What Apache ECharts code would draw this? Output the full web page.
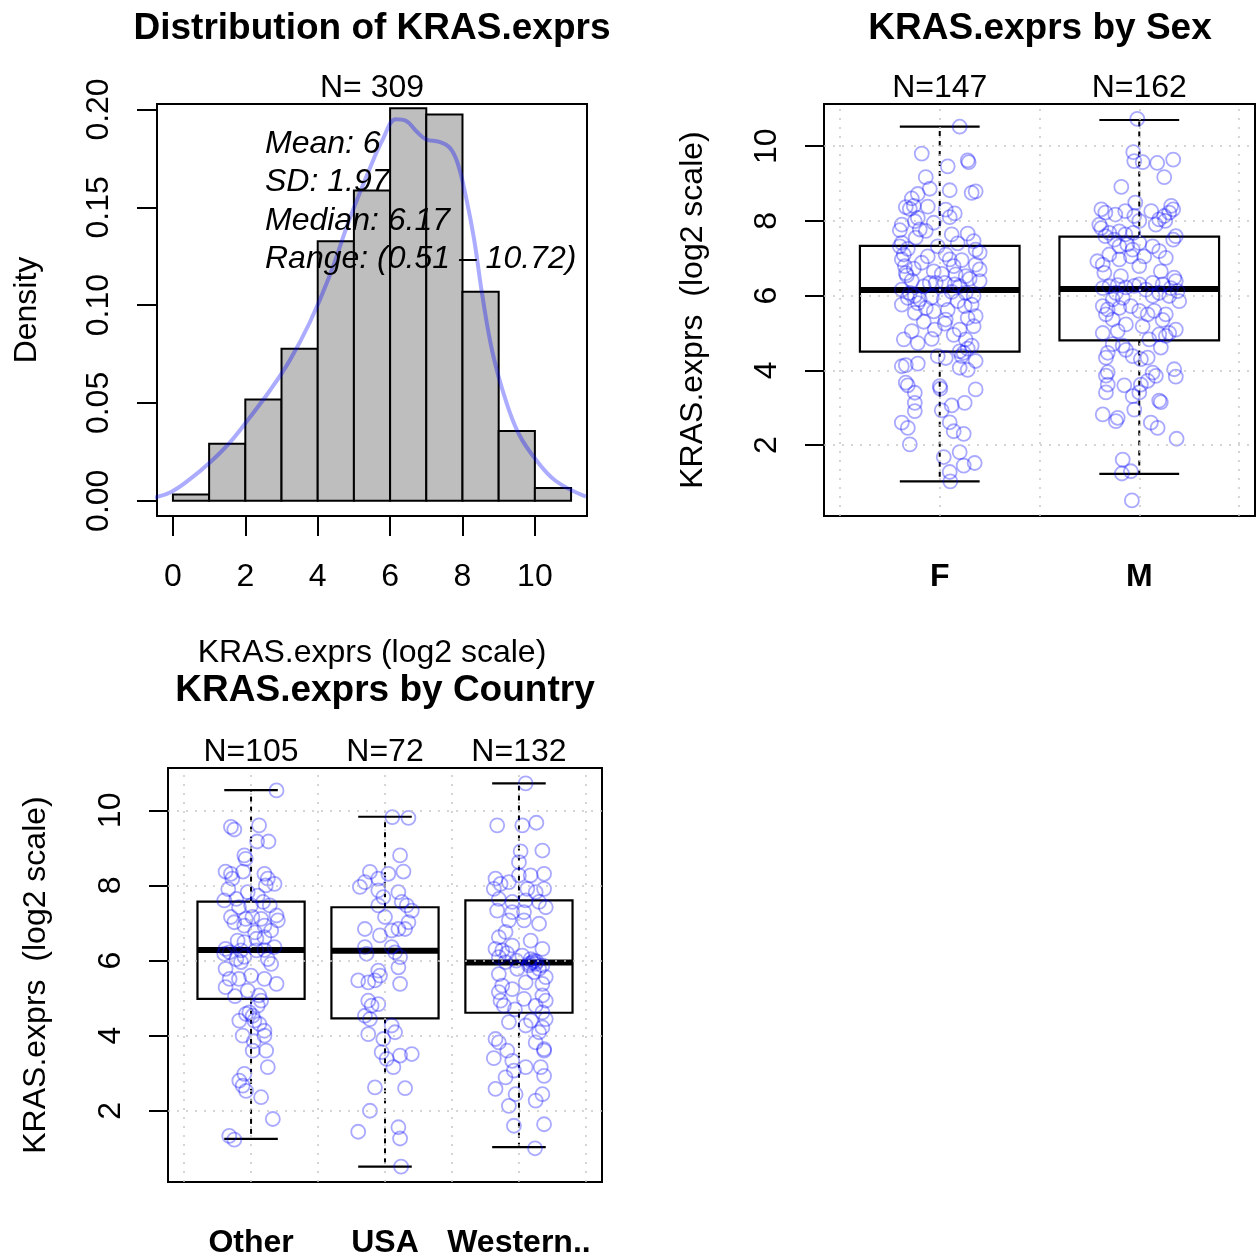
<!DOCTYPE html>
<html>
<head>
<meta charset="utf-8">
<script src="https://cdn.jsdelivr.net/npm/echarts@6/dist/echarts.min.js"></script>
<style>
  html, body { margin: 0; padding: 0; background: #fff; }
  #chart { width: 1256px; height: 1255px; }
</style>
</head>
<body>
<div id="chart"></div>
<script>
// ---- histogram ----
const histBreaks = [0, 1, 2, 3, 4, 5, 6, 7, 8, 9, 10, 11];
const histCounts = [1, 9, 16, 24, 41, 49, 62, 61, 33, 11, 2];
const histTotal = 309;
const densityX = [-0.63, -0.08, 0.47, 1.02, 1.57, 2.12, 2.67, 3.22, 3.78, 4.33, 4.88, 5.43, 5.80, 6.16, 6.44, 6.72, 6.99, 7.36, 7.64, 7.86, 8.09, 8.32, 8.55, 8.83, 9.20, 9.56, 10.02, 10.58, 11.41];
const densityY = [0.0011, 0.0042, 0.011, 0.0195, 0.0297, 0.0425, 0.0561, 0.0715, 0.0911, 0.115, 0.144, 0.1695, 0.1848, 0.195, 0.1942, 0.189, 0.1848, 0.1834, 0.1806, 0.1729, 0.1558, 0.1337, 0.1047, 0.0758, 0.051, 0.034, 0.0212, 0.0101, 0.0021];
const histXTicks = [0, 2, 4, 6, 8, 10];
const histYTicks = [0, 0.05, 0.1, 0.15, 0.2];
const statLines = ['Mean: 6', 'SD: 1.97', 'Median: 6.17', 'Range: (0.51 \u2013 10.72)'];

// ---- by sex ----
const sexGroups = ['F', 'M'];
const sexN = [147, 162];
// [lower whisker, Q1, median, Q3, upper whisker]
const sexStats = [
  [1.03, 4.50, 6.15, 7.33, 10.52],
  [1.23, 4.80, 6.18, 7.58, 10.70]
];
// jitter points: [offset from group centre, value]
const sexPointsF = [[0.10,10.52],[-0.09,9.80],[0.14,9.62],[0.145,9.57],[0.04,9.46],[-0.07,9.17],[-0.05,8.86],[0.05,8.82],[0.16,8.75],[0.18,8.79],[-0.11,8.72],[-0.14,8.60],[-0.17,8.37],[-0.15,8.32],[-0.13,8.40],[-0.06,8.38],[0.03,8.30],[0.075,8.20],[0.05,8.10],[-0.11,8.08],[-0.125,7.99],[-0.19,7.90],[-0.20,7.75],[-0.03,7.95],[-0.10,7.77],[-0.07,7.73],[0.06,7.64],[0.14,7.66],[0.17,7.46],[-0.19,7.41],[-0.20,7.32],[-0.01,7.32],[0.18,7.23],[0.20,7.15],[-0.18,7.10],[-0.19,6.97],[-0.175,6.79],[0.03,7.10],[0.05,6.97],[0.07,6.79],[-0.09,6.88],[-0.03,6.65],[-0.17,6.60],[-0.165,6.54],[0.18,6.83],[0.20,6.70],[0.08,6.57],[0.13,6.52],[0.20,6.39],[-0.05,6.34],[-0.02,6.34],[0.025,6.34],[0.075,6.30],[0.10,6.25],[-0.19,6.16],[-0.15,6.07],[-0.125,5.99],[-0.10,5.90],[-0.19,5.76],[-0.16,5.94],[-0.07,5.67],[-0.03,5.58],[0.02,5.90],[0.13,6.07],[0.17,5.99],[0.125,5.72],[0.16,5.76],[-0.125,5.54],[0.18,5.45],[0.03,5.36],[0.025,5.25],[-0.025,5.09],[0.17,5.18],[0.10,5.09],[-0.18,4.83],[-0.04,4.84],[0.13,4.83],[-0.11,4.73],[0.10,4.51],[0.12,4.47],[0.11,4.38],[0.14,4.58],[-0.01,4.38],[0.03,4.33],[0.18,4.25],[-0.19,4.11],[-0.17,4.14],[-0.11,4.18],[0.10,4.07],[0.14,4.01],[-0.17,3.67],[-0.16,3.60],[0.0,3.58],[0.003,3.51],[0.18,3.49],[-0.125,3.40],[0.125,3.13],[0.06,3.06],[-0.125,3.13],[-0.125,2.91],[0.01,2.93],[0.05,2.61],[-0.19,2.60],[-0.16,2.46],[0.07,2.37],[0.12,2.30],[-0.15,2.02],[0.10,1.81],[0.02,1.68],[0.12,1.45],[0.175,1.52],[0.05,1.28],[0.053,1.03],[-0.12,7.55],[-0.16,7.25],[0.09,7.40],[-0.06,7.05],[0.11,6.95],[-0.13,6.72],[0.01,6.58],[0.15,6.45],[-0.08,6.25],[-0.14,6.40],[0.06,6.10],[-0.04,5.95],[0.09,5.85],[-0.11,5.80],[0.04,5.62],[0.14,5.40],[-0.08,5.30],[0.07,4.95],[-0.14,5.05],[0.16,4.66]];
const sexPointsM = [[-0.01,10.73],[-0.03,9.84],[-0.025,9.60],[0.017,9.57],[0.09,9.55],[0.17,9.64],[0.125,9.17],[-0.09,8.91],[-0.02,8.49],[-0.19,8.31],[-0.17,8.22],[-0.12,8.17],[-0.07,8.26],[-0.025,8.13],[0.0,8.00],[0.06,8.26],[0.16,8.40],[0.17,8.31],[0.15,8.22],[0.10,8.04],[0.125,8.13],[-0.20,7.90],[-0.19,7.81],[-0.15,7.68],[-0.10,7.72],[-0.07,7.64],[-0.03,7.68],[-0.17,7.59],[-0.125,7.50],[0.083,7.90],[0.13,8.00],[0.17,7.50],[0.183,7.59],[0.0,7.41],[-0.06,7.37],[-0.10,7.32],[-0.21,6.92],[-0.183,6.83],[-0.175,6.61],[-0.15,7.10],[-0.033,7.23],[-0.042,7.05],[0.067,7.32],[0.10,7.19],[0.133,7.01],[0.025,7.05],[-0.10,6.97],[0.0,6.79],[-0.092,6.52],[0.108,6.65],[0.175,6.48],[0.183,6.39],[-0.183,6.20],[-0.15,6.25],[-0.108,6.28],[-0.067,6.22],[-0.025,6.26],[0.067,6.34],[0.117,6.30],[0.158,6.20],[0.192,6.12],[0.0,6.30],[0.033,6.16],[-0.117,6.07],[-0.083,5.94],[-0.133,5.90],[0.067,5.99],[0.10,6.07],[0.15,5.99],[-0.183,5.72],[-0.158,5.63],[-0.10,5.67],[0.20,5.85],[0.0,5.59],[0.042,5.50],[0.075,5.59],[-0.042,5.72],[-0.167,5.50],[-0.133,5.36],[0.133,5.50],[0.117,5.35],[-0.067,5.23],[0.017,5.18],[-0.183,5.00],[-0.108,5.05],[0.10,4.96],[0.133,4.92],[0.15,5.00],[0.183,5.09],[0.05,4.83],[-0.133,4.70],[-0.083,4.66],[-0.067,4.55],[0.108,4.61],[-0.033,4.38],[0.008,4.30],[0.042,4.34],[-0.167,4.34],[-0.158,4.47],[0.067,3.94],[0.083,3.85],[0.042,3.72],[-0.158,3.95],[-0.167,3.86],[0.175,4.03],[0.183,3.83],[-0.158,3.62],[-0.167,3.41],[-0.075,3.60],[0.008,3.62],[0.0,3.41],[0.10,3.19],[0.108,3.15],[-0.033,3.31],[-0.025,2.95],[-0.183,2.82],[-0.108,2.73],[-0.117,2.64],[0.058,2.60],[0.092,2.46],[0.187,2.17],[-0.083,1.61],[-0.042,1.30],[-0.087,1.24],[-0.037,0.52]];

// ---- by country ----
const countryGroups = ['Other', 'USA', 'Western..'];
const countryN = [105, 72, 132];
const countryStats = [
  [1.25, 4.98, 6.28, 7.57, 10.54],
  [0.51, 4.46, 6.26, 7.42, 9.83],
  [1.03, 4.61, 5.95, 7.60, 10.72]
];
const countryPointsOther = [[0.19,10.53],[-0.15,9.56],[-0.125,9.49],[0.06,9.60],[0.045,9.17],[0.13,9.17],[-0.05,8.80],[-0.04,8.71],[-0.19,8.37],[-0.15,8.31],[-0.14,8.18],[-0.06,8.37],[0.10,8.31],[0.125,8.18],[0.175,8.04],[0.11,8.00],[-0.025,7.82],[-0.20,7.60],[-0.11,7.64],[-0.09,7.42],[0.05,7.73],[0.09,7.56],[0.0,7.47],[0.14,7.47],[0.19,7.20],[0.20,7.07],[-0.15,7.16],[-0.125,7.02],[-0.04,7.11],[0.01,7.16],[0.075,7.11],[0.10,6.93],[0.15,6.80],[-0.05,6.93],[-0.10,6.53],[-0.05,6.49],[0.04,6.58],[0.10,6.62],[0.175,6.36],[-0.19,6.31],[-0.16,6.22],[-0.20,6.18],[-0.075,6.27],[0.04,6.27],[0.10,6.28],[-0.11,6.04],[-0.075,5.96],[0.125,6.04],[0.15,5.91],[-0.19,5.78],[-0.16,5.51],[-0.09,5.51],[0.0,5.60],[0.10,5.51],[-0.19,5.29],[0.19,5.38],[-0.025,5.20],[0.06,5.07],[0.075,4.93],[0.05,4.80],[-0.0125,4.62],[-0.0375,4.58],[0.0125,4.53],[-0.0875,4.40],[0.025,4.40],[0.0625,4.31],[0.10,4.13],[-0.0625,4.00],[0.10,4.00],[0.0125,3.60],[0.1125,3.60],[0.125,3.16],[-0.05,2.98],[-0.0875,2.80],[-0.0375,2.53],[-0.0625,2.67],[0.075,2.36],[0.1625,1.78],[-0.1625,1.33],[-0.125,1.23],[-0.17,7.90],[0.03,6.75],[-0.12,5.05],[0.02,3.85],[-0.05,6.10]];
const countryPointsUSA = [[0.055,9.82],[0.175,9.80],[0.1125,8.80],[-0.1125,8.36],[-0.15,8.09],[-0.1875,7.96],[-0.05,8.18],[0.025,8.31],[0.1375,8.37],[-0.05,7.87],[-0.0125,7.69],[0.10,7.82],[0.125,7.56],[0.1625,7.47],[0.20,7.33],[0.175,7.02],[0.15,6.84],[-0.05,7.47],[-0.15,6.84],[0.0,7.16],[-0.0375,6.67],[0.05,6.80],[0.10,6.84],[-0.15,6.36],[-0.1375,6.18],[0.05,6.36],[0.075,6.22],[0.1125,6.09],[0.10,5.82],[-0.05,5.73],[-0.0375,5.60],[-0.20,5.47],[-0.125,5.42],[-0.075,5.47],[0.1125,5.38],[-0.125,4.93],[-0.05,4.84],[-0.10,4.80],[-0.15,4.53],[-0.1125,4.44],[0.05,4.27],[0.075,4.09],[-0.125,4.04],[-0.0125,3.91],[-0.025,3.56],[0.0125,3.38],[0.1125,3.47],[0.20,3.51],[0.0625,3.16],[-0.075,2.62],[0.15,2.60],[-0.1125,2.00],[-0.20,1.44],[0.10,1.56],[0.1125,1.26],[0.12,0.51]];
const countryPointsWestern = [[0.05,10.72],[-0.1625,9.60],[0.025,9.60],[0.13,9.67],[0.0125,8.91],[0.175,8.93],[0.0,8.62],[-0.175,8.18],[-0.1375,8.04],[-0.1875,7.91],[-0.075,8.09],[0.0,8.27],[0.0875,8.27],[0.1875,8.31],[0.0625,7.91],[0.125,7.82],[0.1875,7.91],[-0.15,7.64],[-0.05,7.56],[0.05,7.60],[0.15,7.56],[0.20,7.42],[-0.1625,7.33],[-0.05,7.29],[0.0375,7.29],[-0.075,7.07],[0.0375,7.07],[0.15,6.98],[-0.10,6.76],[-0.15,6.62],[-0.175,6.31],[-0.125,6.27],[0.0875,6.53],[0.175,6.31],[-0.05,6.40],[-0.15,6.09],[-0.10,5.96],[0.025,6.13],[0.0875,6.04],[0.125,5.91],[0.15,5.78],[0.1125,5.69],[0.075,5.87],[0.175,5.87],[-0.0125,5.78],[-0.15,5.64],[-0.125,5.33],[-0.15,5.16],[-0.05,5.24],[0.20,5.56],[0.175,5.38],[0.05,5.42],[-0.1375,4.93],[-0.1125,4.80],[0.175,5.07],[0.20,4.93],[0.125,4.80],[0.175,4.62],[0.0375,4.98],[-0.075,4.36],[0.20,4.44],[0.175,4.22],[0.15,4.09],[0.05,4.27],[-0.175,3.91],[-0.15,3.82],[-0.0875,3.60],[-0.05,3.33],[-0.1875,3.40],[0.05,3.16],[0.125,3.82],[0.1875,3.64],[0.1875,3.60],[0.1625,3.16],[0.1875,2.93],[-0.10,2.89],[-0.0375,3.07],[-0.175,2.58],[-0.025,2.44],[-0.075,2.13],[0.125,2.27],[0.175,2.44],[-0.0375,1.60],[0.1875,1.64],[0.12,1.00],[0.10,5.95],[0.11,6.00],[0.13,5.97],[0.08,5.92],[-0.02,6.00],[-0.09,6.20],[-0.03,4.70],[0.09,4.40]];

const exprTicks = [2, 4, 6, 8, 10];
const boxGridX = [0.5, 1, 1.5, 2, 2.5, 3, 3.5];

const FONT = '"Liberation Sans", Arial, Helvetica, sans-serif';
const BASE_SIZE = 32;
const BOX_HALF = 0.4;
const CAP_HALF = 0.2;

const chart = echarts.init(document.getElementById('chart'), null, { renderer: 'canvas' });

/** box + whiskers drawn through the axis scales */
function renderBox(params, api) {
  const x = api.value(0);
  const lo = api.value(1), q1 = api.value(2), md = api.value(3), q3 = api.value(4), hi = api.value(5);
  const pt = (dx, v) => api.coord([x + dx, v]);
  const seg = (a, b, style) => ({
    type: 'line',
    shape: { x1: a[0], y1: a[1], x2: b[0], y2: b[1] },
    style: Object.assign({ stroke: '#000', lineWidth: 2 }, style)
  });
  const tl = pt(-BOX_HALF, q3), br = pt(BOX_HALF, q1);
  return {
    type: 'group',
    children: [
      seg(pt(0, q3), pt(0, hi), { lineDash: [5, 5] }),
      seg(pt(0, q1), pt(0, lo), { lineDash: [5, 5] }),
      seg(pt(-CAP_HALF, hi), pt(CAP_HALF, hi), { lineWidth: 2.2 }),
      seg(pt(-CAP_HALF, lo), pt(CAP_HALF, lo), { lineWidth: 2.2 }),
      {
        type: 'rect',
        shape: { x: tl[0], y: tl[1], width: br[0] - tl[0], height: br[1] - tl[1] },
        style: { fill: 'rgba(255,255,255,0)', stroke: '#000', lineWidth: 2.2 }
      },
      seg(pt(-BOX_HALF, md), pt(BOX_HALF, md), { lineWidth: 6 })
    ]
  };
}

function renderHistBar(params, api) {
  const a = api.coord([api.value(0), api.value(2)]);
  const b = api.coord([api.value(1), 0]);
  return {
    type: 'rect',
    shape: { x: a[0], y: a[1], width: b[0] - a[0], height: b[1] - a[1] },
    style: { fill: '#bebebe', stroke: '#000', lineWidth: 2 }
  };
}

const jitter = (pts, idx) => pts.map(p => [idx + p[0], p[1]]);

const gridLines = (xs) => ({
  silent: true,
  symbol: 'none',
  animation: false,
  label: { show: false },
  lineStyle: { type: [2, 7], color: '#c8c8c8', width: 1.5 },
  data: xs.map(v => ({ xAxis: v })).concat(exprTicks.map(v => ({ yAxis: v })))
});

const pointStyle = {
  symbol: 'circle',
  symbolSize: 14,
  itemStyle: { color: 'rgba(0,0,0,0)', borderColor: 'rgba(0,0,255,0.42)', borderWidth: 1.8 }
};

const tickText = { color: '#000', fontSize: BASE_SIZE, fontFamily: FONT };
const tickLine = { lineStyle: { color: '#000', width: 2 } };

function valueX(grid, min, max, extra) {
  return Object.assign({
    type: 'value', gridIndex: grid, min: min, max: max,
    axisLine: { show: false, onZero: false },
    splitLine: { show: false },
    axisTick: { show: false },
    axisLabel: { show: false }
  }, extra);
}

function exprY(grid, gap) {
  return {
    type: 'value', gridIndex: grid, min: 0.102, max: 11.128,
    axisLine: { show: false, onZero: false },
    splitLine: { show: false },
    axisTick: Object.assign({ show: true, length: 19, customValues: exprTicks }, tickLine),
    axisLabel: Object.assign({ customValues: exprTicks, rotate: 90, margin: 41 }, tickText),
    name: 'KRAS.exprs  (log2 scale)',
    nameLocation: 'middle', nameRotate: 90, nameGap: gap,
    nameTextStyle: { color: '#000', fontSize: BASE_SIZE, fontFamily: FONT }
  };
}

const groupLabels = (names, grid, min, max) => valueX(grid, min, max, {
  axisLabel: Object.assign({}, tickText, {
    show: true, fontWeight: 'bold', margin: 45,
    customValues: names.map((n, i) => i + 1),
    formatter: v => names[Math.round(v) - 1]
  })
});

const countLabels = (counts, grid, min, max) => valueX(grid, min, max, {
  position: 'top',
  axisLabel: Object.assign({}, tickText, {
    show: true, margin: 0,
    customValues: counts.map((n, i) => i + 1),
    formatter: v => 'N=' + counts[Math.round(v) - 1]
  })
});

const titleText = (text, x, y, bold) => ({
  type: 'text', z: 100,
  style: {
    text: text, x: x, y: y, align: 'center', verticalAlign: 'middle',
    font: (bold ? 'bold 37px ' : BASE_SIZE + 'px ') + FONT, fill: '#000'
  }
});

const frame = (left, top, width, height) => ({
  left: left, top: top, width: width, height: height,
  show: true, borderColor: '#000', borderWidth: 2,
  outerBoundsMode: 'none', containLabel: false
});

const option = {
  animation: false,
  textStyle: { fontFamily: FONT },
  grid: [
    frame(157, 104, 430, 412),
    frame(824, 104, 431, 412),
    frame(168, 768, 434, 414)
  ],
  xAxis: [
    valueX(0, -0.44, 11.44, {
      axisTick: Object.assign({ show: true, length: 20, customValues: histXTicks }, tickLine),
      axisLabel: Object.assign({ show: true, margin: 45, customValues: histXTicks }, tickText)
    }),
    groupLabels(sexGroups, 1, 0.42, 2.58),
    countLabels(sexN, 1, 0.42, 2.58),
    groupLabels(countryGroups, 2, 0.38, 3.62),
    countLabels(countryN, 2, 0.38, 3.62)
  ],
  yAxis: [
    {
      type: 'value', gridIndex: 0, min: -0.0078, max: 0.2028,
      axisLine: { show: false, onZero: false },
      splitLine: { show: false },
      axisTick: Object.assign({ show: true, length: 20, customValues: histYTicks }, tickLine),
      axisLabel: Object.assign({ customValues: histYTicks, rotate: 90, margin: 42, formatter: v => v.toFixed(2) }, tickText),
      name: 'Density', nameLocation: 'middle', nameRotate: 90, nameGap: 114,
      nameTextStyle: { color: '#000', fontSize: BASE_SIZE, fontFamily: FONT }
    },
    exprY(1, 115),
    exprY(2, 116)
  ],
  graphic: [
    titleText('Distribution of KRAS.exprs', 372, 29, true),
    titleText('N= 309', 372, 88, false),
    titleText('KRAS.exprs by Sex', 1040, 29, true),
    titleText('KRAS.exprs (log2 scale)', 372, 653, false),
    titleText('KRAS.exprs by Country', 385, 691, true)
  ].concat(statLines.map((t, i) => ({
    type: 'text', z: 100,
    style: {
      text: t, x: 265, y: 144 + i * 38.5, align: 'left', verticalAlign: 'middle',
      font: 'italic ' + BASE_SIZE + 'px ' + FONT, fill: '#000'
    }
  }))),
  series: [
    {
      type: 'custom', xAxisIndex: 0, yAxisIndex: 0, renderItem: renderHistBar,
      encode: { x: [0, 1], y: 2 },
      data: histCounts.map((c, i) => [histBreaks[i], histBreaks[i + 1], c / histTotal / (histBreaks[i + 1] - histBreaks[i])])
    },
    {
      type: 'line', xAxisIndex: 0, yAxisIndex: 0, smooth: 0.4, showSymbol: false, clip: false,
      lineStyle: { color: 'rgba(0,0,255,0.33)', width: 4 },
      data: densityX.map((x, i) => [x, densityY[i]]), z: 3
    },
    {
      type: 'custom', xAxisIndex: 1, yAxisIndex: 1, renderItem: renderBox,
      encode: { x: 0, y: [1, 2, 3, 4, 5] },
      data: sexStats.map((s, i) => [i + 1].concat(s))
    },
    Object.assign({
      type: 'scatter', xAxisIndex: 1, yAxisIndex: 1, z: 3,
      data: jitter(sexPointsF, 1).concat(jitter(sexPointsM, 2)),
      markLine: gridLines(boxGridX.slice(0, 5))
    }, pointStyle),
    {
      type: 'custom', xAxisIndex: 3, yAxisIndex: 2, renderItem: renderBox,
      encode: { x: 0, y: [1, 2, 3, 4, 5] },
      data: countryStats.map((s, i) => [i + 1].concat(s))
    },
    Object.assign({
      type: 'scatter', xAxisIndex: 3, yAxisIndex: 2, z: 3,
      data: jitter(countryPointsOther, 1).concat(jitter(countryPointsUSA, 2), jitter(countryPointsWestern, 3)),
      markLine: gridLines(boxGridX)
    }, pointStyle)
  ]
};

chart.setOption(option);
</script>
</body>
</html>
